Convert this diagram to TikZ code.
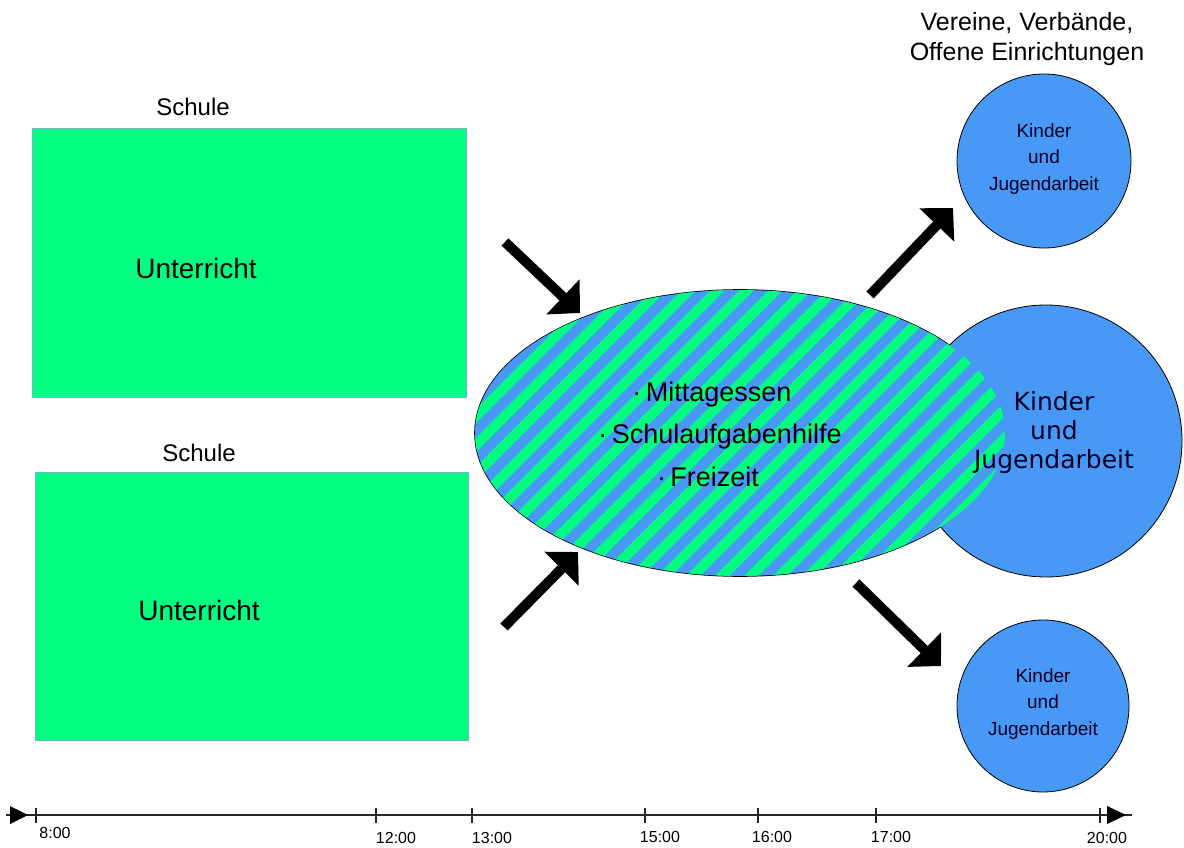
\documentclass[tikz,border=0pt]{standalone}
\usepackage{fontspec}
\setmainfont{Liberation Sans}
\newfontfamily\roundfont{DejaVu Sans}
\usepackage{tikz}
\usetikzlibrary{positioning}
\usetikzlibrary{arrows.meta}
\usepackage{xcolor}

\definecolor{schoolgreen}{RGB}{0,255,128}
\definecolor{youthblue}{RGB}{72,152,246}
\definecolor{rectedge}{RGB}{100,190,205}

\tikzset{
  schoolbox/.style={draw=rectedge, line width=0.8pt, fill=schoolgreen},
  bigarrow/.style={line width=10pt, -{Triangle[length=23.5pt,width=47pt]}},
  headtext/.style={font=\fontsize{24}{28}\selectfont},
  listtext/.style={font=\fontsize{27}{31}\selectfont},
  smallkj/.style={align=center, font=\fontsize{19}{26.5}\selectfont, text=black!85!blue},
  timelabel/.style={font=\fontsize{16}{18}\selectfont}
}

\begin{document}
\begin{tikzpicture}[x=1pt,y=-1pt]
\useasboundingbox (0,0) rectangle (1184,848);

% Schule blocks
\draw[schoolbox] (32,128) rectangle (466,397);
\draw[schoolbox] (35,472) rectangle (468,740);

\node[headtext] (schuleA) at (193,107) {Schule};
\node[headtext] (schuleB) at (199,453) {Schule};
\node[font=\fontsize{28}{32}\selectfont] (unterrichtA) at (196,268) {Unterricht};
\node[font=\fontsize{28}{32}\selectfont] (unterrichtB) at (199,610) {Unterricht};

% ganztag ellipse and big circle
{
\draw[black, line width=1.6pt] (740,433) ellipse [x radius=265, y radius=143];
\draw[black, line width=0.8pt, fill=youthblue] (1046,441) circle [radius=136];
\begin{scope}
\clip (740,433) ellipse [x radius=265, y radius=143];
\fill[youthblue] (470,285) rectangle (1010,580);
\foreach \i in {0,...,36}
  \draw[schoolgreen, line width=10pt] ({60+29*\i},600) -- ++(340,-340);
\end{scope}
}

\node[listtext] (essen) at (712,395) {·\,Mittagessen};
\node[listtext] (hilfe) at (720,437) {·\,Schulaufgabenhilfe};
\node[listtext] (freizeit) at (708,477) {·\,Freizeit};

\node[align=center, font=\roundfont\fontsize{25}{29}\selectfont, text=black!85!blue] (kjbig) at (1054,433) {Kinder\\und\\Jugendarbeit};

% small circles
\draw[black, line width=0.8pt, fill=youthblue] (1044,161) circle [radius=87];
\draw[black, line width=0.8pt, fill=youthblue] (1043,706) circle [radius=86];
\node[smallkj] (kjtop) at (1044,159) {Kinder\\und\\Jugendarbeit};
\node[smallkj] (kjbottom) at (1043,704) {Kinder\\und\\Jugendarbeit};

\node[align=center, font=\fontsize{25}{30}\selectfont] (vereine) at (1027,39) {Vereine, Verbände,\\Offene Einrichtungen};

% arrows
\coordinate (inA) at (505,242);
\coordinate (inAend) at (580,313);
\coordinate (inB) at (504,627);
\coordinate (inBend) at (578,552);
\coordinate (outA) at (870,295);
\coordinate (outAend) at (953,208);
\coordinate (outB) at (856,583);
\coordinate (outBend) at (941,666);
\draw[bigarrow] (inA) -- (inAend);
\draw[bigarrow] (inB) -- (inBend);
\draw[bigarrow] (outA) -- (outAend);
\draw[bigarrow] (outB) -- (outBend);

% time line
\coordinate (tstart) at (6,815);
\coordinate (tend) at (1132,815);
\draw[black!85, line width=1.4pt] (tstart) -- (tend);
\fill[black] (10,806) -- (28,815) -- (10,824) -- cycle;
\fill[black] (1107,806) -- (1126,815) -- (1107,824) -- cycle;
\foreach \x/\lx/\ly/\lab in {36/55/833/8:00, 376/396/838/12:00, 472/492/838/13:00, 645/660/837/15:00, 758/772/837/16:00, 876/891/837/17:00, 1100/1107/838/20:00}
{
  \draw[black!85, line width=1.2pt] (\x,808) -- (\x,823);
  \node[timelabel] (lab\x) at (\lx,\ly) {\lab};
}

\end{tikzpicture}
\end{document}
